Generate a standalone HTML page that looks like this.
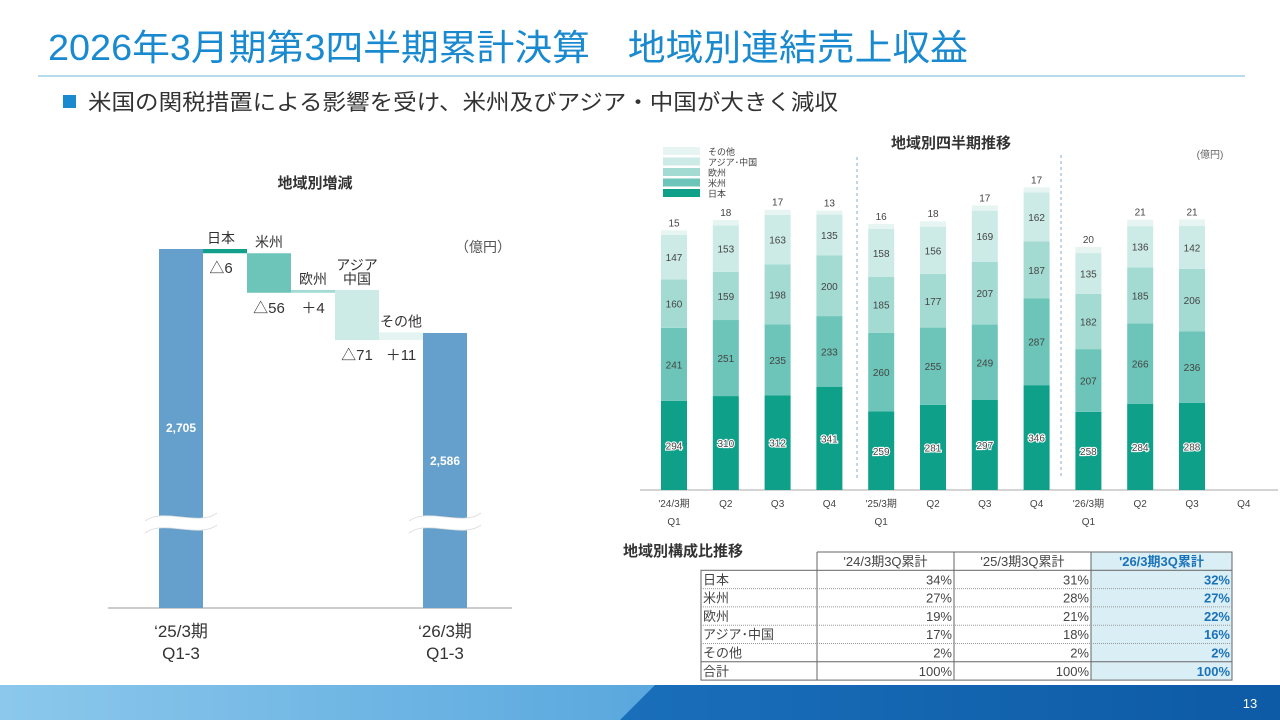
<!DOCTYPE html>
<html><head><meta charset="utf-8"><style>
body{margin:0;width:1280px;height:720px;overflow:hidden;background:#fff;font-family:"Liberation Sans","Noto Sans CJK JP",sans-serif}
svg text{font-family:"Liberation Sans","Noto Sans CJK JP",sans-serif}
</style></head><body>
<svg id="s" width="1280" height="720" viewBox="0 0 1280 720" xmlns="http://www.w3.org/2000/svg">
<defs>
<linearGradient id="fg" x1="0" x2="1" y1="0" y2="0"><stop offset="0" stop-color="#8cc8ec"/><stop offset="0.5" stop-color="#5aa8de"/><stop offset="1" stop-color="#3a8fd0"/></linearGradient>
<linearGradient id="fg2" x1="0" x2="1"><stop offset="0" stop-color="#1a6fba"/><stop offset="1" stop-color="#0d5aa6"/></linearGradient>
</defs>
<text x="48" y="60" font-size="36" fill="#1a8ad0" textLength="920" lengthAdjust="spacingAndGlyphs">2026年3月期第3四半期累計決算　地域別連結売上収益</text>
<line x1="38" y1="76" x2="1245" y2="76" stroke="#8cc4e0" stroke-width="1.2"/>
<rect x="63" y="95" width="13" height="13" fill="#1a8ad0"/>
<text x="88" y="110" font-size="22" fill="#333" textLength="750" lengthAdjust="spacingAndGlyphs">米国の関税措置による影響を受け、米州及びアジア・中国が大きく減収</text>

<g id="wf">
<text x="315" y="188" font-size="15" font-weight="bold" fill="#333" text-anchor="middle">地域別増減</text>
<text x="483" y="252" font-size="14" fill="#555" text-anchor="middle">（億円）</text>
<line x1="108" y1="608" x2="512" y2="608" stroke="#999" stroke-width="1"/>
</g>

<g id="sc">
<text x="951" y="148" font-size="15" font-weight="bold" fill="#333" text-anchor="middle">地域別四半期推移</text>
<text x="1210" y="158" font-size="10" fill="#666" text-anchor="middle">(億円)</text>
<line x1="857" y1="157" x2="857" y2="478" stroke="#8aaccc" stroke-dasharray="3,3"/>
<line x1="1061" y1="155" x2="1061" y2="478" stroke="#8aaccc" stroke-dasharray="3,3"/>
<line x1="640" y1="490" x2="1278" y2="490" stroke="#aaa"/>
</g>

<g id="tbl">
<text x="623" y="556" font-size="15" font-weight="bold" fill="#333">地域別構成比推移</text>
</g>

<g>
<rect x="0" y="685" width="1280" height="35" fill="url(#fg)"/>
<polygon points="655,685 1280,685 1280,720 620,720" fill="url(#fg2)"/>
<text x="1250" y="708" font-size="13" fill="#fff" text-anchor="middle">13</text>
</g>
</svg>
<script>
const NS='http://www.w3.org/2000/svg';
function mk(tag,attrs,parent,txt){const e=document.createElementNS(NS,tag);for(const k in attrs)e.setAttribute(k,attrs[k]);if(txt!==undefined)e.textContent=txt;parent.appendChild(e);return e;}

// ---- Waterfall data ----
const wfStart=2705;
const wfEnd=2586;
const wfCats=['日本','米州','欧州','アジア中国','その他'];
const wfDeltas=[-6,-56,4,-71,11];
const wfColors=['#12a08a','#6cc5b8','#a3dbd3','#cdebe6','#e3f4f1'];
const wfScale=84/119;
const wfRef=2705, wfRefY=249, wfBase=608;
function wy(v){return wfRefY+(wfRef-v)*wfScale;}
const wf=document.getElementById('wf');
const wx0=159, ww=44;
let b=mk('rect',{x:wx0,y:wy(wfStart),width:ww,height:wfBase-wy(wfStart),fill:'#65a0cc'},wf);

let t=mk('text',{x:wx0+ww/2,y:432,'font-size':12,'font-weight':'bold',fill:'#fff','text-anchor':'middle'},wf,wfStart.toLocaleString('en-US'));

let cur=wfStart;
const catLbl=[['日本'],['米州'],['欧州'],['アジア','中国'],['その他']];
wfDeltas.forEach((d,i)=>{
  const nxt=cur+d;const x=wx0+ww*(i+1);
  const y1=wy(Math.max(cur,nxt)),y2=wy(Math.min(cur,nxt));
  const r=mk('rect',{x:x,y:y1,width:ww,height:Math.max(2,y2-y1),fill:wfColors[i]},wf);
  
  
  const cl=catLbl[i];
  cl.forEach((s,k)=>{const tt=mk('text',{x:x+ww/2-(i==0?4:0),y:y1-6-(cl.length-1-k)*14,'font-size':14,fill:'#333','text-anchor':'middle'},wf,s);
    });
  const vl=mk('text',{x:x+ww/2-(i==0?4:0),y:y2+20,'font-size':15,fill:'#333','text-anchor':'middle'},wf,(d<0?'△':'＋')+Math.abs(d));
  
  cur=nxt;
});
const xe=wx0+ww*6;
b=mk('rect',{x:xe,y:wy(wfEnd),width:ww,height:wfBase-wy(wfEnd),fill:'#65a0cc'},wf);

t=mk('text',{x:xe+ww/2,y:465,'font-size':12,'font-weight':'bold',fill:'#fff','text-anchor':'middle'},wf,wfEnd.toLocaleString('en-US'));

[wx0+ww/2,xe+ww/2].forEach(cx=>{
  const p=mk('path',{d:`M${cx-36},521 C${cx-18},507 ${cx+18},527 ${cx+36},513 L${cx+36},525 C${cx+18},539 ${cx-18},519 ${cx-36},533 Z`,fill:'#fff'},wf);
  
  const l1=mk('path',{d:`M${cx-36},521 C${cx-18},507 ${cx+18},527 ${cx+36},513 M${cx-36},533 C${cx-18},519 ${cx+18},539 ${cx+36},525`,fill:'none',stroke:'#ddd','stroke-width':0.8},wf);
  
});
[['‘25/3期','Q1-3',wx0+ww/2],['‘26/3期','Q1-3',xe+ww/2]].forEach(a=>{
  let t1=mk('text',{x:a[2],y:637,'font-size':17,fill:'#333','text-anchor':'middle'},wf,a[0]);
  
  let t2=mk('text',{x:a[2],y:659,'font-size':17,fill:'#333','text-anchor':'middle'},wf,a[1]);
  
});

// ---- Stacked chart data ----
const qCats=['\'24/3期|Q1','Q2','Q3','Q4','\'25/3期|Q1','Q2','Q3','Q4','\'26/3期|Q1','Q2','Q3','Q4'];
const japan=[294,310,312,341,259,281,297,346,258,284,288,null];
const americas=[241,251,235,233,260,255,249,287,207,266,236,null];
const europe=[160,159,198,200,185,177,207,187,182,185,206,null];
const asia=[147,153,163,135,158,156,169,162,135,136,142,null];
const other=[15,18,17,13,16,18,17,17,20,21,21,null];
const series=[japan,americas,europe,asia,other];
const sNames=['日本','米州','欧州','アジア･中国','その他'];
const sColors=['#0fa08a','#6cc5b8','#a3dbd3','#cdebe6','#e6f5f2'];
const sc=document.getElementById('sc');
const base=490, k=0.303, x0=674, pitch=51.8, bw=26;
function sy(v){return base-v*k;}
function sx(i){return x0+i*pitch;}
qCats.forEach((c,i)=>{
  let acc=0;
  series.forEach((s,j)=>{
    const v=s[i]; if(v==null)return;
    const r=mk('rect',{x:sx(i)-bw/2,y:sy(acc+v),width:bw,height:v*k,fill:sColors[j]},sc);
    
    const ly=j==4?sy(acc+v)-4:sy(acc+v/2)+4;
    const tt=mk('text',{x:sx(i),y:ly,'font-size':10,fill:'#444','text-anchor':'middle'},sc,v);
    if(j==0){tt.setAttribute('stroke','#fff');tt.setAttribute('stroke-width','2.2');tt.setAttribute('paint-order','stroke');}
    
    acc+=v;
  });
  c.split('|').forEach((p,k2)=>{
    const tl=mk('text',{x:sx(i),y:507+k2*18,'font-size':10,fill:'#444','text-anchor':'middle'},sc,p);
    
  });
});
for(let j=4;j>=0;j--){
  const yy=147+(4-j)*10.5;
  const r=mk('rect',{x:663,y:yy,width:37,height:8,fill:sColors[j]},sc);
  
  const tt=mk('text',{x:708,y:yy+8,'font-size':9,fill:'#444'},sc,sNames[j]);
  
}

// ---- Table ----
const tHeads=['\'24/3期3Q累計','\'25/3期3Q累計','\'26/3期3Q累計'];
const tRows=['日本','米州','欧州','アジア･中国','その他','合計'];
const tVals=[[34,31,32],[27,28,27],[19,21,22],[17,18,16],[2,2,2],[100,100,100]];
const tb=document.getElementById('tbl');
const cx=[701,817,954,1091,1232], hy=552, rh=18.3;
mk('rect',{x:cx[3],y:hy,width:cx[4]-cx[3],height:rh*7,fill:'#daeef6'},tb);
mk('rect',{x:cx[0],y:hy+rh,width:cx[4]-cx[0],height:rh*6,fill:'none',stroke:'#666'},tb);
mk('path',{d:`M${cx[1]},${hy}H${cx[4]}V${hy+rh}M${cx[1]},${hy}V${hy+rh*7}M${cx[2]},${hy}V${hy+rh*7}M${cx[3]},${hy}V${hy+rh*7}`,fill:'none',stroke:'#666'},tb);
for(let r=1;r<6;r++){mk('line',{x1:cx[0],x2:cx[4],y1:hy+rh*(r+1),y2:hy+rh*(r+1),stroke:r==5?'#666':'#999','stroke-dasharray':r==5?'':'1,1'},tb);}
tHeads.forEach((h,i)=>{const tt=mk('text',{x:(cx[i+1]+cx[i+2])/2,y:hy+14,'font-size':13,fill:i==2?'#1a72b8':'#444','font-weight':i==2?'bold':'normal','text-anchor':'middle'},tb,h);
  });
tRows.forEach((rn,r)=>{
  const y=hy+rh*(r+1)+14;
  const tt=mk('text',{x:cx[0]+2,y:y,'font-size':13,fill:'#444'},tb,rn);
  
  tVals[r].forEach((v,i)=>{const c=mk('text',{x:cx[i+2]-2,y:y,'font-size':13,fill:i==2?'#1a72b8':'#444','font-weight':i==2?'bold':'normal','text-anchor':'end'},tb,v+'%');
    });
});
</script>
</body></html>
